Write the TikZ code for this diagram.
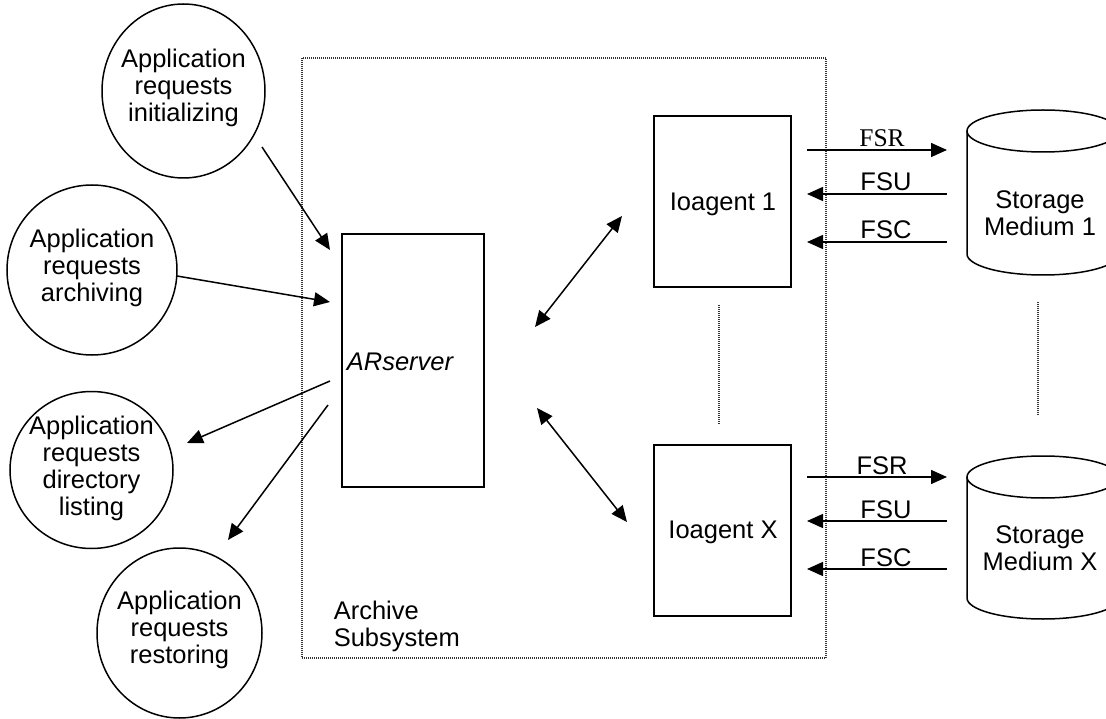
\documentclass[tikz,border=0pt]{standalone}
\usepackage{fontspec}
\setmainfont{Liberation Sans}
\newfontfamily\timesfont{Liberation Serif}
\usetikzlibrary{arrows.meta,shapes.geometric}
\begin{document}
\begin{tikzpicture}[x=1pt,y=-1pt,
  font=\fontsize{25.5}{27}\selectfont,
  line width=1.5pt,
  tip/.tip={Triangle[length=16pt,width=14pt]},
  arr/.style={-tip},
  darr/.style={tip-tip},
  appc/.style={draw,ellipse,inner sep=0pt},
  txt/.style={align=center,inner sep=0pt},
  box/.style={draw,rectangle,inner sep=0pt},
  dots/.style={draw=black!80,line width=1.2pt,dash pattern=on 1pt off 1pt},
  lab/.style={inner sep=2pt}
]
\useasboundingbox (0,0) rectangle (1106,719);
\clip (0,0) rectangle (1106,719);

% subsystem frame
\draw[dots] (302,58) rectangle (826,658);
\node[anchor=west,align=left,inner sep=0pt] (sub) at (333,626) {Archive\\Subsystem};

% application circles
\node[appc,minimum width=163pt,minimum height=174pt] (init) at (183.5,91) {};
\node[txt] (init-t) at (183.5,88) {Application\\requests\\initializing};
\node[appc,minimum width=170pt,minimum height=170pt] (arch) at (92,270) {};
\node[txt] (arch-t) at (92,268) {Application\\requests\\archiving};
\node[appc,minimum width=163pt,minimum height=157pt] (dirl) at (91.5,470) {};
\node[txt] (dirl-t) at (91.5,468) {Application\\requests\\directory\\listing};
\node[appc,minimum width=165pt,minimum height=170pt] (rest) at (179.5,633) {};
\node[txt] (rest-t) at (179.5,630) {Application\\requests\\restoring};

% ARserver
\node[box,minimum width=142pt,minimum height=253pt] (ars) at (413,360.5) {};
\node[txt,font=\fontsize{25.5}{27}\selectfont\itshape] (ars-t) at (400,362) {ARserver};

% Ioagents
\node[box,minimum width=137pt,minimum height=171pt] (io1) at (722.5,201.5) {};
\node[txt] (io1-t) at (723,204) {Ioagent 1};
\node[box,minimum width=137pt,minimum height=171pt] (iox) at (722.5,530.5) {};
\node[txt] (iox-t) at (723,532) {Ioagent X};
\draw[dots] (719,305) -- (719,425);

% storage cylinders
\draw (967,131) -- (967,254) arc[start angle=180,end angle=360,x radius=76pt,y radius=21pt] -- (1119,131);
\draw (1043,131) ellipse [x radius=76pt,y radius=21pt];
\node[txt] (st1) at (1040,213) {Storage\\Medium 1};
\draw (967,477) -- (967,598) arc[start angle=180,end angle=360,x radius=76pt,y radius=21pt] -- (1119,477);
\draw (1043,477) ellipse [x radius=76pt,y radius=21pt];
\node[txt] (stx) at (1040,548) {Storage\\Medium X};
\draw[dots] (1038,302) -- (1038,415);

% connector end points
\coordinate (a1s) at (262,147);  \coordinate (a1e) at (330,250);
\coordinate (a2s) at (177,276);  \coordinate (a2e) at (330,302);
\coordinate (a3s) at (330,381);  \coordinate (a3e) at (187,443);
\coordinate (a4s) at (328,405);  \coordinate (a4e) at (228,540);
\coordinate (d1s) at (535,327);  \coordinate (d1e) at (622,216);
\coordinate (d2s) at (537,408);  \coordinate (d2e) at (627,522);

\draw[arr] (a1s) -- (a1e);
\draw[arr] (a2s) -- (a2e);
\draw[arr] (a3s) -- (a3e);
\draw[arr] (a4s) -- (a4e);
\draw[darr] (d1s) -- (d1e);
\draw[darr] (d2s) -- (d2e);

% FS arrows, upper
\coordinate (r1l) at (807,150); \coordinate (r1r) at (947,150);
\coordinate (u1l) at (807,194); \coordinate (u1r) at (947,194);
\coordinate (c1l) at (807,242); \coordinate (c1r) at (947,242);
\draw[arr] (r1l) -- node[lab,above,pos=0.536,font=\fontsize{25.5}{27}\timesfont] {FSR} (r1r);
\draw[arr] (u1r) -- node[lab,above,pos=0.436] {FSU} (u1l);
\draw[arr] (c1r) -- node[lab,above,pos=0.436] {FSC} (c1l);

% FS arrows, lower
\coordinate (r2l) at (807,477); \coordinate (r2r) at (947,477);
\coordinate (u2l) at (807,521); \coordinate (u2r) at (947,521);
\coordinate (c2l) at (807,569); \coordinate (c2r) at (947,569);
\draw[arr] (r2l) -- node[lab,above,pos=0.536] {FSR} (r2r);
\draw[arr] (u2r) -- node[lab,above,pos=0.436] {FSU} (u2l);
\draw[arr] (c2r) -- node[lab,above,pos=0.436] {FSC} (c2l);
\end{tikzpicture}
\end{document}
